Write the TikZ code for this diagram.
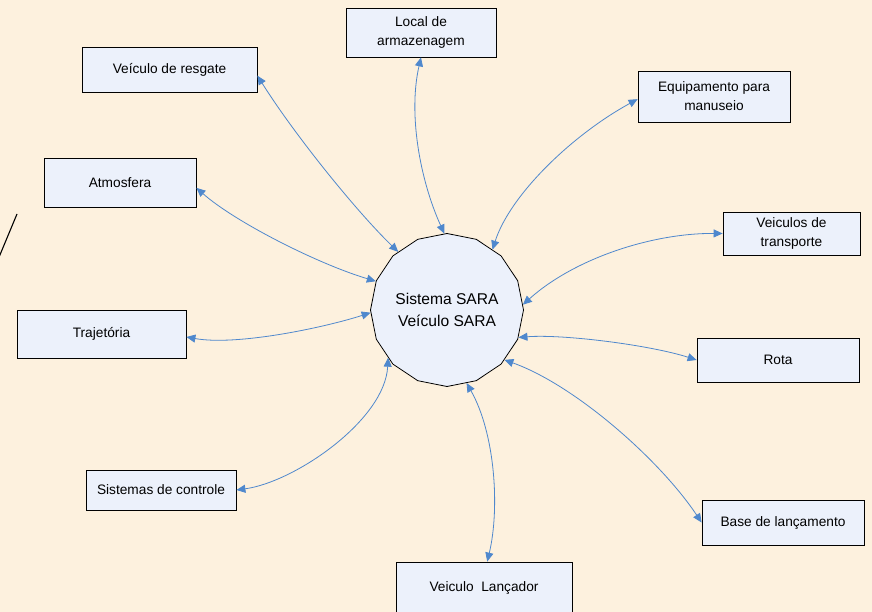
\documentclass[tikz,border=0pt]{standalone}
\usepackage{fontspec}
\setmainfont{Liberation Sans}
\usetikzlibrary{arrows.meta,shapes.geometric}
\definecolor{bgc}{RGB}{253,241,222}
\definecolor{boxc}{RGB}{236,241,251}
\definecolor{arrc}{RGB}{79,136,205}
\begin{document}
\begin{tikzpicture}[x=1pt,y=-1pt,
  box/.style={draw=black, line width=0.8pt, fill=boxc, align=center,
    font=\fontsize{13.7}{19}\selectfont, inner sep=2pt},
  link/.style={draw=arrc, line width=0.8pt, >={Triangle[length=9pt,width=8pt]}, <->}]
\clip (0,0) rectangle (872,612);
\fill[bgc] (0,0) rectangle (872,612);
% left stray line
\draw[line width=1.1pt] (17,214) -- (-3,262);
% centre
\node[regular polygon, regular polygon sides=16, shape border rotate=11.25,
  minimum size=153pt, draw=black, line width=0.8pt, fill=boxc, align=center,
  font=\fontsize{15.6}{22}\selectfont, inner sep=0pt] (c) at (447,310)
  {Sistema SARA\\Veículo SARA};
% boxes
\node[box, minimum width=175pt, minimum height=45pt] (resgate) at (169.5,69.5) {Veículo de resgate};
\node[box, minimum width=150pt, minimum height=49pt] (local) at (421,32.5) {Local de\\armazenagem};
\node[box, minimum width=152pt, minimum height=51pt] (equip) at (714,96.5) {Equipamento para\\manuseio};
\node[box, minimum width=152pt, minimum height=49pt] (atmo) at (120,182.5) {Atmosfera};
\node[box, minimum width=137pt, minimum height=43pt] (transp) at (791.5,233.5) {Veiculos de\\transporte};
\node[box, minimum width=169pt, minimum height=48pt] (traj) at (101.5,334) {Trajetória};
\node[box, minimum width=162pt, minimum height=44pt] (rota) at (778,360) {Rota};
\node[box, minimum width=150pt, minimum height=40pt] (controle) at (161,490) {Sistemas de controle};
\node[box, minimum width=162pt, minimum height=45pt] (base) at (783,522.5) {Base de lançamento};
\node[box, minimum width=176pt, minimum height=52pt] (lanc) at (484,588) {Veiculo\ \ Lançador};
% connectors
\draw[link] (resgate.-4) .. controls (294,134) and (356,211) .. (c.130);
\draw[link] (local.south) .. controls (408,114) and (420,180) .. (c.92);
\draw[link] (equip.182) .. controls (572,135) and (510,195) .. (c.53);
\draw[link] (atmo.-4) .. controls (235,222) and (318,264) .. (c.158);
\draw[link] (transp.west) .. controls (653,233) and (575,258) .. (c.4);
\draw[link] (traj.-2) .. controls (236,346) and (323,328) .. (c.182);
\draw[link] (rota.west) .. controls (650,345) and (563,334) .. (c.-21);
\draw[link] (controle.east) .. controls (295,482) and (385,420) .. (c.219);
\draw[link] (base.west) .. controls (660,460) and (575,385) .. (c.-41);
\draw[link] (lanc.83) .. controls (500,508) and (495,433) .. (c.-75);
\end{tikzpicture}
\end{document}
